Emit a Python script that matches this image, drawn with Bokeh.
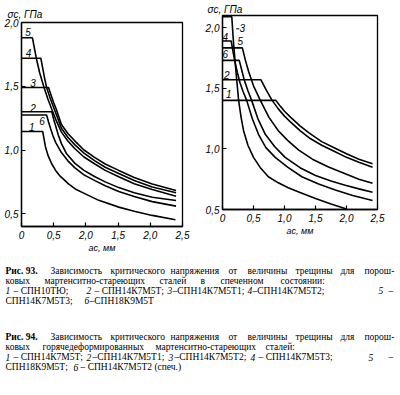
from bokeh.plotting import figure
from bokeh.layouts import column, row
from bokeh.models import Label, Range1d, FixedTicker, ColumnDataSource
from bokeh.embed import file_html
from bokeh.resources import INLINE
from bokeh.core.properties import value

# ---------------- data: Fig. 93 (left) ----------------
L_ticks_x = [0, 0.5, 1.0, 1.5, 2.0, 2.5]
L_ticklabels_x = ["0", "0,5", "2,0", "1,5", "2,0", "2,5"]
L_ticks_y = [0.5, 1.0, 1.5, 2.0]
L_ticklabels_y = ["0,5", "1,0", "1,5", "2,0"]

L1_a = [0, 0.33, 0.345, 0.37, 0.41, 0.47, 0.53, 0.60, 0.73, 0.85, 0.99, 1.20, 1.51, 1.75, 2.03, 2.39]
L1_s = [1.145, 1.145, 1.10, 1.03, 0.96, 0.89, 0.84, 0.795, 0.734, 0.69, 0.656, 0.605, 0.552, 0.52, 0.487, 0.453]
L2_a = [0, 0.47, 0.50, 0.53, 0.57, 0.62, 0.70, 0.83, 0.97, 1.14, 1.30, 1.51, 1.75, 2.03, 2.40]
L2_s = [1.30, 1.30, 1.24, 1.19, 1.12, 1.05, 0.97, 0.895, 0.84, 0.79, 0.75, 0.705, 0.665, 0.63, 0.604]
L6_a = [0, 0.39, 0.42, 0.45, 0.49, 0.53, 0.62, 0.72, 0.83, 0.97, 1.14, 1.30, 1.51, 1.75, 2.03, 2.40]
L6_s = [1.275, 1.275, 1.22, 1.17, 1.11, 1.06, 0.98, 0.915, 0.86, 0.805, 0.76, 0.72, 0.675, 0.635, 0.595, 0.56]
L3_a = [0, 0.42, 0.46, 0.50, 0.54, 0.62, 0.72, 0.83, 0.97, 1.14, 1.30, 1.51, 1.75, 2.03, 2.40]
L3_s = [1.49, 1.49, 1.43, 1.37, 1.32, 1.20, 1.13, 1.07, 1.00, 0.94, 0.89, 0.84, 0.785, 0.734, 0.682]
L4_a = [0, 0.30, 0.33, 0.36, 0.39, 0.45, 0.51, 0.62, 0.72, 0.83, 0.97, 1.14, 1.30, 1.51, 1.75, 2.03, 2.40]
L4_s = [1.72, 1.72, 1.64, 1.56, 1.49, 1.40, 1.32, 1.17, 1.10, 1.04, 0.975, 0.915, 0.865, 0.815, 0.76, 0.71, 0.664]
L5_a = [0, 0.17, 0.20, 0.23, 0.28, 0.35, 0.41, 0.47, 0.54, 0.62, 0.72, 0.83, 0.97, 1.14, 1.30, 1.51, 1.75, 2.03, 2.40]
L5_s = [1.88, 1.88, 1.80, 1.72, 1.61, 1.49, 1.40, 1.32, 1.23, 1.14, 1.07, 1.01, 0.945, 0.89, 0.84, 0.79, 0.735, 0.69, 0.638]
L_curves = [(L1_a, L1_s), (L2_a, L2_s), (L3_a, L3_s), (L4_a, L4_s), (L5_a, L5_s), (L6_a, L6_s)]
L_names = ["1", "2", "3", "4", "5", "6"]
L_name_a = [0.16, 0.18, 0.18, 0.11, 0.10, 0.32]
L_name_s = [1.18, 1.33, 1.524, 1.757, 1.925, 1.226]

# ---------------- data: Fig. 94 (right) ----------------
R_ticks_x = [0, 0.5, 1.0, 1.5, 2.0, 2.5]
R_ticklabels_x = ["0", "0,5", "1,0", "1,5", "2,0", "2,5"]
R_ticks_y = [0.5, 1.0, 1.5, 2.0]
R_ticklabels_y = ["0,5", "1,0", "1,5", "2,0"]

R1_a = [0, 0.86, 0.92, 1.00, 1.10, 1.25, 1.40, 1.60, 1.80, 2.00, 2.20, 2.42]
R1_s = [1.40, 1.40, 1.36, 1.31, 1.26, 1.19, 1.13, 1.06, 1.01, 0.96, 0.915, 0.877]
R2_a = [0, 0.62, 0.70, 0.80, 0.90, 1.00, 1.10, 1.25, 1.40, 1.60, 1.80, 2.00, 2.20, 2.42]
R2_s = [1.57, 1.57, 1.49, 1.40, 1.33, 1.27, 1.22, 1.15, 1.09, 1.03, 0.98, 0.93, 0.89, 0.849]
R3_a = [0, 0.15, 0.165, 0.18, 0.20, 0.22, 0.24, 0.26, 0.30, 0.34, 0.41, 0.50, 0.61, 0.74, 0.90, 1.06, 1.25, 1.50, 1.75, 2.00]
R3_s = [2.09, 2.09, 1.97, 1.86, 1.74, 1.62, 1.51, 1.40, 1.26, 1.15, 1.03, 0.93, 0.845, 0.77, 0.72, 0.68, 0.64, 0.59, 0.545, 0.505]
R4_a = [0, 0.14, 0.17, 0.20, 0.24, 0.28, 0.33, 0.39, 0.48, 0.58, 0.70, 0.85, 1.05, 1.28, 1.55, 1.82, 2.10, 2.42]
R4_s = [1.89, 1.89, 1.80, 1.72, 1.63, 1.55, 1.475, 1.40, 1.25, 1.12, 1.01, 0.93, 0.85, 0.77, 0.71, 0.66, 0.615, 0.574]
R5_a = [0, 0.32, 0.37, 0.42, 0.50, 0.61, 0.75, 0.90, 1.05, 1.23, 1.45, 1.71, 2.00, 2.20, 2.42]
R5_s = [1.833, 1.833, 1.73, 1.64, 1.52, 1.40, 1.26, 1.15, 1.07, 0.99, 0.915, 0.85, 0.79, 0.75, 0.717]
R6_a = [0, 0.27, 0.31, 0.35, 0.41, 0.47, 0.57, 0.69, 0.84, 1.01, 1.25, 1.50, 1.75, 1.98, 2.20, 2.42]
R6_s = [1.73, 1.73, 1.65, 1.57, 1.48, 1.40, 1.25, 1.12, 1.02, 0.93, 0.845, 0.78, 0.735, 0.70, 0.67, 0.643]
R_curves = [(R1_a, R1_s), (R2_a, R2_s), (R3_a, R3_s), (R4_a, R4_s), (R5_a, R5_s), (R6_a, R6_s)]
R_names = ["1", "2", "3", "4", "5", "6"]
R_name_a = [0.10, 0.07, 0.32, 0.045, 0.285, 0.045]
R_name_s = [1.454, 1.613, 1.998, 1.92, 1.888, 1.784]

# ---------------- captions ----------------
cap93 = [
    [("Рис. 93.", "bold"), ("Зависимость", "normal"), ("критического", "normal"), ("напряжения", "normal"),
     ("от", "normal"), ("величины", "normal"), ("трещины", "normal"), ("для", "normal"), ("порош-", "normal")],
    [("ковых", "normal"), ("мартенситно-стареющих", "normal"), ("сталей", "normal"), ("в", "normal"),
     ("спеченном", "normal"), ("состоянии:", "normal")],
    [("1", "italic"), ("– СПН10ТЮ;", "normal"), ("2", "italic"), ("– СПН14К7М5Т;", "normal"),
     ("3", "italic"), ("–СПН14К7М5Т1;", "normal"), ("4", "italic"), ("–СПН14К7М5Т2;", "normal"),
     ("5", "italic"), ("–", "normal")],
    [("СПН14К7М5Т3;", "normal"), ("6", "italic"), ("–СПН18К9М5Т", "normal")],
]
cap94 = [
    [("Рис. 94.", "bold"), ("Зависимость", "normal"), ("критического", "normal"), ("напряжения", "normal"),
     ("от", "normal"), ("величины", "normal"), ("трещины", "normal"), ("для", "normal"), ("порош-", "normal")],
    [("ковых", "normal"), ("горячедеформированных", "normal"), ("мартенситно-стареющих", "normal"),
     ("сталей:", "normal")],
    [("1", "italic"), ("– СПН14К7М5Т;", "normal"), ("2", "italic"), ("–СПН14К7М5Т1;", "normal"),
     ("3", "italic"), ("–СПН14К7М5Т2;", "normal"), ("4", "italic"), ("– СПН14К7М5Т3;", "normal"),
     ("5", "italic"), ("–", "normal")],
    [("СПН18К9М5Т;", "normal"), ("6", "italic"), ("– СПН14К7М5Т2 (спеч.)", "normal")],
]
# layout: x positions (px) of each segment, y (px) of each line
cap93_x = [[5, 50, 110, 170, 228, 247, 295, 340, 364], [5, 44, 159, 200, 220, 280],
           [5, 13, 86, 94, 167, 172, 247, 252, 378, 388], [5, 84, 89]]
cap93_y = [270, 280, 290, 300]
cap94_x = [[5, 50, 110, 170, 228, 247, 295, 340, 364], [5, 42, 155, 265],
           [5, 13, 86, 92, 168, 174, 250, 258, 368, 388], [5, 73, 80]]
cap94_y = [336, 346, 356.5, 366.5]

FONT_AX = "Liberation Sans"
FONT_CAP = "Liberation Serif"


def style_axes(p, xt, xl, yt, yl):
    p.frame_align = False
    p.xaxis.ticker = FixedTicker(ticks=xt)
    p.xaxis.major_label_overrides = {t: l for t, l in zip(xt, xl)}
    p.yaxis.ticker = FixedTicker(ticks=yt)
    p.yaxis.major_label_overrides = {t: l for t, l in zip(yt, yl)}
    for ax in (p.xaxis[0], p.yaxis[0]):
        ax.major_tick_in = 4
        ax.major_tick_out = 0
        ax.minor_tick_in = 0
        ax.minor_tick_out = 0
        ax.axis_line_width = 1.3
        ax.axis_line_color = "black"
        ax.major_tick_line_color = "black"
        ax.major_tick_line_width = 1.2
        ax.major_label_text_font = FONT_AX
        ax.major_label_text_font_style = "italic"
        ax.major_label_text_font_size = "10px"
        ax.major_label_text_color = "black"
        ax.major_label_standoff = 3
    xa = p.xaxis[0]
    xa.axis_label = "ac, мм"
    xa.axis_label_text_font = FONT_AX
    xa.axis_label_text_font_style = "italic"
    xa.axis_label_text_font_size = "9px"
    xa.axis_label_text_color = "black"
    xa.axis_label_standoff = 1
    xa.major_label_standoff = 4
    p.title.text = "σc, ГПа"
    p.title.text_font = FONT_AX
    p.title.text_font_style = "italic"
    p.title.text_font_size = "10px"
    p.title.text_color = "black"
    p.title.align = "left"
    p.xgrid.visible = False
    p.ygrid.visible = False
    p.outline_line_color = "black"
    p.outline_line_width = 1.3
    p.outline_line_alpha = 1.0
    p.background_fill_color = "white"
    p.border_fill_color = "white"


def add_label(p, x, y, text, size="10px", style="italic", align="center"):
    p.add_layout(Label(x=x, y=y, text=text, text_font=FONT_AX, text_font_style=style,
                       text_font_size=size, text_color="black", text_align=align,
                       text_baseline="middle"))


# ---------------- left figure ----------------
pl = figure(width=200, height=255, x_range=Range1d(0, 2.5), y_range=Range1d(0.4, 2.0),
            output_backend="svg", toolbar_location=None,
            min_border_left=21, min_border_right=18, min_border_top=22, min_border_bottom=27)
style_axes(pl, L_ticks_x, L_ticklabels_x, L_ticks_y, L_ticklabels_y)
pl.title.offset = -14
pl.title.standoff = 6
for a, s in L_curves:
    pl.line(a, s, line_color="black", line_width=1.6)
for n, a, s in zip(L_names, L_name_a, L_name_s):
    add_label(pl, a, s, n)

# ---------------- right figure ----------------
pr = figure(width=200, height=255, x_range=Range1d(0, 2.5), y_range=Range1d(0.5, 2.10),
            output_backend="svg", toolbar_location=None,
            min_border_left=22, min_border_right=23, min_border_top=15, min_border_bottom=46)
style_axes(pr, R_ticks_x, R_ticklabels_x, R_ticks_y, R_ticklabels_y)
pr.title.offset = -15
pr.title.standoff = 1
for a, s in R_curves:
    pr.line(a, s, line_color="black", line_width=1.6)
for n, a, s in zip(R_names, R_name_a, R_name_s):
    add_label(pr, a, s, n)
pr.line([0.22, 0.27], [1.99, 1.99], line_color="black", line_width=1)

# ---------------- caption figure ----------------
CW, CH = 400, 139
pc = figure(width=CW, height=CH, x_range=Range1d(0, CW), y_range=Range1d(CH, 0),
            output_backend="svg", toolbar_location=None,
            min_border=0, x_axis_location=None, y_axis_location=None)
pc.frame_align = False
pc.outline_line_color = None
pc.xgrid.visible = False
pc.ygrid.visible = False

for caps, xs, ys in ((cap93, cap93_x, cap93_y), (cap94, cap94_x, cap94_y)):
    for segs, xl, yref in zip(caps, xs, ys):
        for (txt, st), xr in zip(segs, xl):
            src = ColumnDataSource(dict(x=[xr], y=[yref - 255], t=[txt]))
            pc.text(x="x", y="y", text="t", source=src, text_font=value(FONT_CAP),
                    text_font_style=st, text_font_size="9.5px", text_color="black",
                    text_baseline="middle", text_align="left")

layout = column(row(pl, pr), pc)
open("out.html", "w").write(file_html(layout, INLINE))
